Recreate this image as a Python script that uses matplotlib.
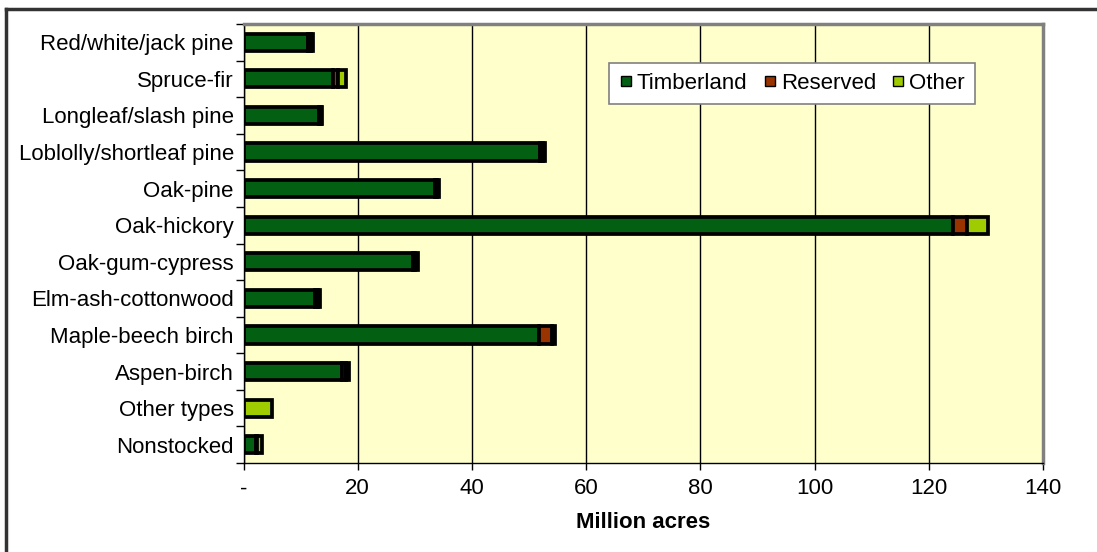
import matplotlib
matplotlib.use("Agg")
import matplotlib.pyplot as plt
import numpy as np
from matplotlib.lines import Line2D

plt.rcParams["font.family"] = ["Liberation Sans", "DejaVu Sans"]

# forest type groups, top to bottom as in the chart
categories = ["Red/white/jack pine", "Spruce-fir", "Longleaf/slash pine",
              "Loblolly/shortleaf pine", "Oak-pine", "Oak-hickory",
              "Oak-gum-cypress", "Elm-ash-cottonwood", "Maple-beech birch",
              "Aspen-birch", "Other types", "Nonstocked"]
timberland = [11.3, 15.6, 13.3, 52.0, 33.5, 124.2, 29.6, 12.6, 51.8, 17.3, 0.0, 2.2]
reserved = [0.5, 1.0, 0.2, 0.5, 0.4, 2.5, 0.5, 0.5, 2.3, 0.6, 0.0, 0.1]
other = [0.4, 1.4, 0.2, 0.3, 0.3, 3.7, 0.4, 0.3, 0.5, 0.6, 5.0, 0.9]
series_names = ["Timberland", "Reserved", "Other"]
colors = ["#036012", "#993300", "#9ecc00"]
xticks = [0, 20, 40, 60, 80, 100, 120, 140]
xticklabels = ["-", "20", "40", "60", "80", "100", "120", "140"]

fig = plt.figure(figsize=(10.97, 5.52), dpi=100)
ax = fig.add_axes([243.5 / 1097, 89 / 552, (1043 - 243.5) / 1097, (463 - 24) / 552])
ax.set_facecolor("#ffffcc")

y = np.arange(len(categories))
left = np.zeros(len(categories))
for vals, name, col in zip([timberland, reserved, other], series_names, colors):
    vals = np.array(vals)
    ax.barh(y, vals, left=left, height=0.47, color=col, edgecolor="black",
            linewidth=2.7, label=name, zorder=3)
    left += vals

ax.set_ylim(len(categories) - 0.5, -0.5)
ax.set_xlim(0, 140)
ax.set_yticks(y)
ax.set_yticklabels(categories, fontsize=16)
ax.set_yticks(np.arange(-0.5, len(categories), 1), minor=True)
ax.tick_params(axis="y", which="major", length=0, pad=7)
ax.tick_params(axis="y", which="minor", length=6, width=1, direction="out")
ax.set_xticks(xticks)
ax.set_xticklabels(xticklabels, fontsize=16)
ax.tick_params(axis="x", length=5, width=1, direction="out", pad=6)
ax.xaxis.grid(True, color="black", linewidth=1, zorder=0)
ax.set_axisbelow(True)

for s in ["top", "right"]:
    ax.spines[s].set_color("#808080")
    ax.spines[s].set_linewidth(2.5)
for s in ["left", "bottom"]:
    ax.spines[s].set_color("black")
    ax.spines[s].set_linewidth(1)

ax.set_xlabel("Million acres", fontsize=16, fontweight="bold", labelpad=9)

handles = [Line2D([], [], marker="s", linestyle="none", markersize=7,
                  markerfacecolor=c, markeredgecolor="black", markeredgewidth=1)
           for c in colors]
leg = ax.legend(handles, series_names, loc="upper left",
                bbox_to_anchor=((609 - 243.5) / (1043 - 243.5), (463 - 63) / (463 - 24)),
                borderaxespad=0, ncol=3, fontsize=16, frameon=True, fancybox=False,
                handlelength=0.6, handletextpad=0.2, columnspacing=0.7,
                borderpad=0.45, edgecolor="#808080", framealpha=1)
leg.get_frame().set_linewidth(1.2)

# outer chart border (top and left edges visible)
fig.add_artist(Line2D([5.5 / 1097, 5.5 / 1097], [0, 1 - 9 / 552], color="#333333",
                      linewidth=2.5, transform=fig.transFigure))
fig.add_artist(Line2D([5.5 / 1097, 1], [1 - 9 / 552, 1 - 9 / 552], color="#333333",
                      linewidth=2.5, transform=fig.transFigure))

fig.savefig("out.png", dpi=100)
